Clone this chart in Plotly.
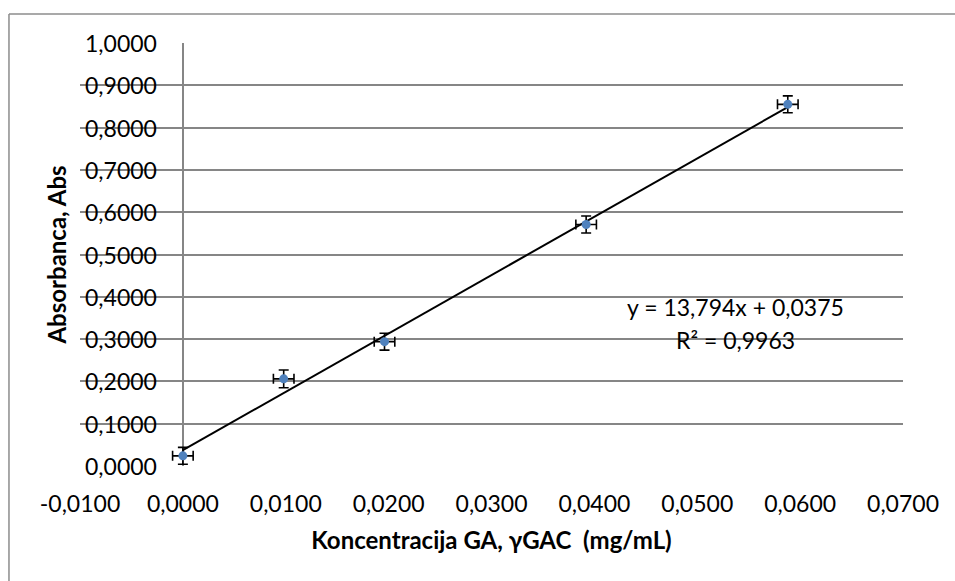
import numpy as np
import plotly.graph_objects as go

# Data
concentration = [0.0, 0.0098, 0.0196, 0.0392, 0.0588]
absorbance = [0.024, 0.206, 0.294, 0.571, 0.855]
abs_error = [0.020, 0.021, 0.020, 0.020, 0.020]
conc_error = [0.001, 0.001, 0.001, 0.001, 0.001]
slope = 13.794
intercept = 0.0375
r_squared = 0.9963

x_ticks = [-0.01, 0.0, 0.01, 0.02, 0.03, 0.04, 0.05, 0.06, 0.07]
y_ticks = [0.0, 0.1, 0.2, 0.3, 0.4, 0.5, 0.6, 0.7, 0.8, 0.9, 1.0]


def fmt(v):
    return f"{v:.4f}".replace(".", ",")


FONT = "Lato"
TICK_SIZE = 23

fig = go.Figure()

# trendline over data range
tx = np.array([min(concentration), max(concentration)])
ty = slope * tx + intercept
fig.add_trace(go.Scatter(x=tx, y=ty, mode="lines",
                         line=dict(color="black", width=2),
                         hoverinfo="skip", showlegend=False))

fig.add_trace(go.Scatter(
    x=concentration, y=absorbance, mode="markers",
    marker=dict(color="#4F81BD", size=9),
    error_y=dict(type="data", array=abs_error, color="black", thickness=1.6, width=5),
    error_x=dict(type="data", array=conc_error, color="black", thickness=1.6, width=5),
    showlegend=False))

fig.add_annotation(x=0.05374, y=0.376, xref="x", yref="y",
                   text=f"y = {fmt(slope)[:-1]}x + {fmt(intercept)}",
                   showarrow=False, xanchor="center", yanchor="middle",
                   font=dict(family=FONT, size=TICK_SIZE, color="black"))
fig.add_annotation(x=0.05374, y=0.298, xref="x", yref="y",
                   text=f"R² = {fmt(r_squared)}",
                   showarrow=False, xanchor="center", yanchor="middle",
                   font=dict(family=FONT, size=TICK_SIZE, color="black"))

# y tick labels drawn inside the plot area at its left edge
for v in y_ticks:
    fig.add_annotation(x=0, xref="paper", y=v, yref="y", text=fmt(v),
                       showarrow=False, xanchor="left", yanchor="middle", xshift=3,
                       font=dict(family=FONT, size=TICK_SIZE, color="black"))

# chart-area border (left and top)
fig.add_shape(type="line", xref="paper", yref="paper", x0=-0.0863, x1=-0.0863,
              y0=-0.5, y1=1.0686, line=dict(color="#8c8c8c", width=1.5))
fig.add_shape(type="line", xref="paper", yref="paper", x0=-0.0863, x1=1.3,
              y0=1.0686, y1=1.0686, line=dict(color="#8c8c8c", width=1.5))

fig.update_xaxes(range=[-0.01, 0.07], tickvals=x_ticks,
                 ticktext=[fmt(v) for v in x_ticks],
                 showgrid=False, zeroline=True, zerolinecolor="#868686", zerolinewidth=1.5,
                 showline=False, ticks="", ticklabelstandoff=22,
                 tickfont=dict(family=FONT, size=TICK_SIZE, color="black"),
                 title=dict(text="<b>Koncentracija GA, γGAC  (mg/mL)</b>", standoff=16,
                            font=dict(family=FONT, size=24, color="black")))
fig.update_yaxes(range=[0, 1.0], tickvals=y_ticks,
                 showticklabels=False,
                 showgrid=True, gridcolor="#868686", gridwidth=1.5,
                 zeroline=False, showline=False, ticks="",
                 title=dict(text="<b>Absorbanca, Abs</b>", standoff=5,
                            font=dict(family=FONT, size=24, color="black")))

fig.update_layout(width=955, height=581,
                  margin=dict(l=80, r=52, t=43, b=115, autoexpand=False),
                  paper_bgcolor="white", plot_bgcolor="white")

fig.write_html("out.html", config={"displayModeBar": False},
               post_script="document.body.style.margin='0px';")
